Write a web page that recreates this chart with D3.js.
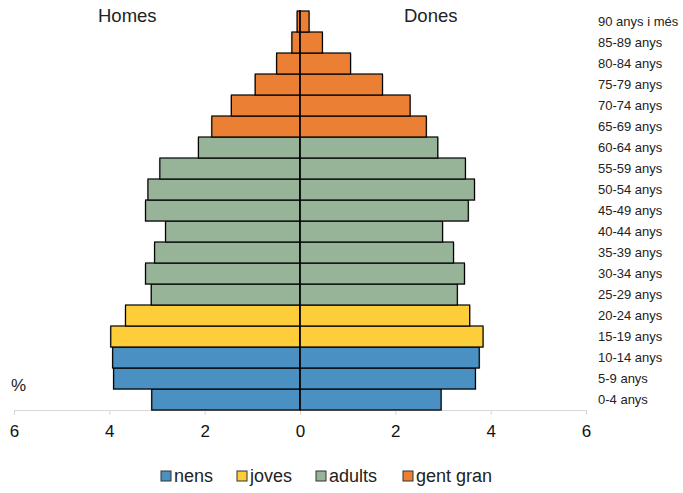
<!DOCTYPE html>
<html><head><meta charset="utf-8">
<script src="https://cdn.jsdelivr.net/npm/d3@7/dist/d3.min.js"></script>
<style>body{margin:0;background:#fff}svg{display:block;font-family:"Liberation Sans",Arial,sans-serif}</style>
</head><body><svg id="c" width="683" height="493"></svg>
<script>
const ages = ["0-4 anys","5-9 anys","10-14 anys","15-19 anys","20-24 anys","25-29 anys","30-34 anys","35-39 anys","40-44 anys","45-49 anys","50-54 anys","55-59 anys","60-64 anys","65-69 anys","70-74 anys","75-79 anys","80-84 anys","85-89 anys","90 anys i més"];
const homes = [3.11,3.91,3.93,3.97,3.66,3.12,3.24,3.05,2.82,3.24,3.19,2.94,2.13,1.85,1.44,0.94,0.49,0.17,0.06];
const dones = [2.96,3.68,3.76,3.84,3.56,3.30,3.45,3.22,2.99,3.53,3.66,3.47,2.89,2.65,2.31,1.73,1.06,0.47,0.19];
const groupOf = ["nens","nens","nens","joves","joves","adults","adults","adults","adults","adults","adults","adults","adults","gent gran","gent gran","gent gran","gent gran","gent gran","gent gran"];
const groups = ["nens","joves","adults","gent gran"];
const colors = ["#4a90c2","#fecd3a","#97b499","#eb8034"];
const tickVals = [-6,-4,-2,0,2,4,6];

const svg = d3.select("#c");
const x = d3.scaleLinear().domain([-6,6]).range([14,586]);
const y = d3.scaleBand().domain(ages).range([410,11]).padding(0);
const color = d3.scaleOrdinal().domain(groups).range(colors);

const rows = ages.map((a,i)=>({age:a,h:homes[i],d:dones[i],g:groupOf[i]}));

// axis
const ax = svg.append("g").attr("transform","translate(0,410)")
  .call(d3.axisBottom(x).tickValues(tickVals).tickSize(5).tickSizeOuter(0).tickPadding(10).tickFormat(v=>Math.abs(v)));
ax.select(".domain").attr("stroke","#d9d9d9");
ax.selectAll(".tick line").attr("stroke","#d9d9d9");
ax.selectAll(".tick text").attr("font-size",17).attr("fill","#111").attr("font-family","Liberation Sans, Arial, sans-serif");

// shadows
const sh = svg.append("g").attr("fill","#999").attr("opacity",0.6);
sh.selectAll(".sl").data(rows).join("rect")
  .attr("x",d=>x(-d.h)-1).attr("y",d=>y(d.age)+1)
  .attr("width",d=>x(0)-x(-d.h)).attr("height",y.bandwidth());
sh.selectAll(".sr").data(rows).join("rect")
  .attr("x",x(0)+1).attr("y",d=>y(d.age)+1)
  .attr("width",d=>x(d.d)-x(0)).attr("height",y.bandwidth());

const bars = svg.append("g").attr("stroke","#000").attr("stroke-width",1.2);
bars.selectAll(".l").data(rows).join("rect")
  .attr("x",d=>x(-d.h)).attr("y",d=>y(d.age))
  .attr("width",d=>x(0)-x(-d.h)).attr("height",y.bandwidth())
  .attr("fill",d=>color(d.g));
bars.selectAll(".r").data(rows).join("rect")
  .attr("x",x(0)).attr("y",d=>y(d.age))
  .attr("width",d=>x(d.d)-x(0)).attr("height",y.bandwidth())
  .attr("fill",d=>color(d.g));

svg.append("line").attr("x1",x(0)).attr("x2",x(0)).attr("y1",10).attr("y2",410)
  .attr("stroke","#000").attr("stroke-width",1.3);

// age labels
svg.append("g").selectAll("text").data(ages).join("text")
  .attr("x",598).attr("y",d=>y(d)+y.bandwidth()/2).attr("dy","0.35em")
  .attr("font-size",13).attr("fill","#222").text(d=>d);

svg.append("text").attr("x",98).attr("y",22).attr("font-size",18.5).attr("fill","#222").text("Homes");
svg.append("text").attr("x",404).attr("y",22).attr("font-size",18.5).attr("fill","#222").text("Dones");
svg.append("text").attr("x",11).attr("y",391).attr("font-size",17).attr("fill","#222").text("%");

// legend
const legX = [161,237,316,403];
const lg = svg.append("g").selectAll("g").data(groups).join("g")
  .attr("transform",(d,i)=>`translate(${legX[i]},471)`);
lg.append("rect").attr("width",10).attr("height",10).attr("fill",d=>color(d)).attr("stroke","#333").attr("stroke-width",1);
lg.append("text").attr("x",13).attr("y",5).attr("dy","0.36em").attr("font-size",18).attr("fill","#222").text(d=>d);
</script></body></html>
